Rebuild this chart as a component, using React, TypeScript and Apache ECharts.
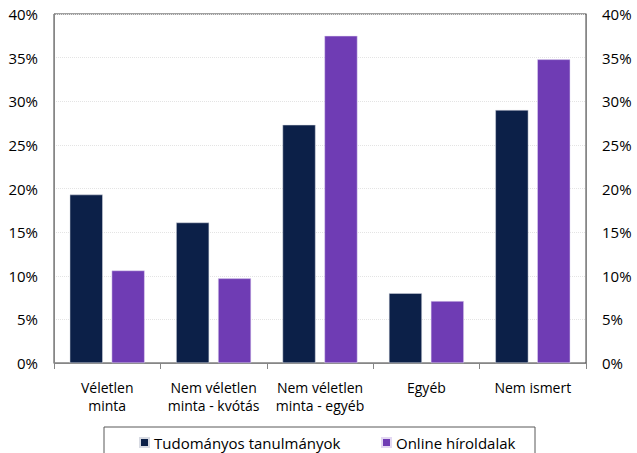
import React, { useEffect, useRef } from "react";
import * as echarts from "echarts";

const categories = [
  "Véletlen\nminta",
  "Nem véletlen\nminta - kvótás",
  "Nem véletlen\nminta - egyéb",
  "Egyéb",
  "Nem ismert",
];
const seriesNames = ["Tudományos tanulmányok", "Online híroldalak"];
const tudomanyos = [19.3, 16.1, 27.3, 8.0, 29.0];
const online = [10.6, 9.7, 37.5, 7.1, 34.8];
const navy = "#0c2048";
const purple = "#6f3cb4";
const FONT = "Open Sans";

export default function App() {
  const ref = useRef<HTMLDivElement>(null);
  useEffect(() => {
    if (!ref.current) return;
    const chart = echarts.init(ref.current, null, { renderer: "svg" });
    const yAxisBase = {
      type: "value" as const,
      min: 0,
      max: 40,
      interval: 5,
      axisLabel: {
        formatter: "{value}%",
        fontFamily: FONT,
        fontSize: 15,
        color: "#000",
        margin: 16,
      },
      axisLine: { show: true, lineStyle: { color: "#868686", width: 1 } },
      axisTick: { show: false },
    };
    const legendBase = {
      top: 430,
      icon: "rect",
      itemWidth: 9,
      itemHeight: 9,
      textStyle: { fontFamily: FONT, fontSize: 15, color: "#000" },
    };
    chart.setOption({
      animation: false,
      backgroundColor: "#fff",
      grid: {
        left: 54,
        right: 51,
        top: 14,
        bottom: 90,
        show: true,
        borderColor: "#404040",
        borderWidth: 1,
        backgroundColor: "transparent",
      },
      xAxis: {
        type: "category",
        data: categories,
        axisLine: { show: true, lineStyle: { color: "#868686", width: 1 } },
        axisTick: { show: true, length: 6, lineStyle: { color: "#868686" } },
        axisLabel: {
          fontFamily: FONT,
          fontSize: 14,
          color: "#000",
          margin: 15,
          lineHeight: 18,
          interval: 0,
        },
      },
      yAxis: [
        {
          ...yAxisBase,
          position: "left",
          splitLine: { show: true, lineStyle: { color: "#e4e4e4", type: "dotted", width: 1 } },
        },
        {
          ...yAxisBase,
          position: "right",
          splitLine: { show: false },
        },
      ],
      legend: [
        { ...legendBase, data: [seriesNames[0]], left: 134 },
        { ...legendBase, data: [seriesNames[1]], left: 376 },
      ],
      graphic: [
        {
          type: "rect",
          shape: { x: 104, y: 427, width: 431, height: 40 },
          style: { fill: "none", stroke: "#595959", lineWidth: 1 },
          silent: true,
        },
      ],
      series: [
        {
          name: seriesNames[0],
          type: "bar",
          data: tudomanyos,
          barWidth: 33,
          barGap: "27%",
          itemStyle: { color: navy, borderColor: "#d8dbe3", borderWidth: 0.5 },
        },
        {
          name: seriesNames[1],
          type: "bar",
          data: online,
          barWidth: 33,
          barGap: "27%",
          itemStyle: { color: purple, borderColor: "#e3d8f2", borderWidth: 0.5 },
        },
      ],
    });
    return () => chart.dispose();
  }, []);
  return (
    <div
      ref={ref}
      style={{ position: "fixed", left: 0, top: 0, width: 637, height: 453 }}
    />
  );
}
